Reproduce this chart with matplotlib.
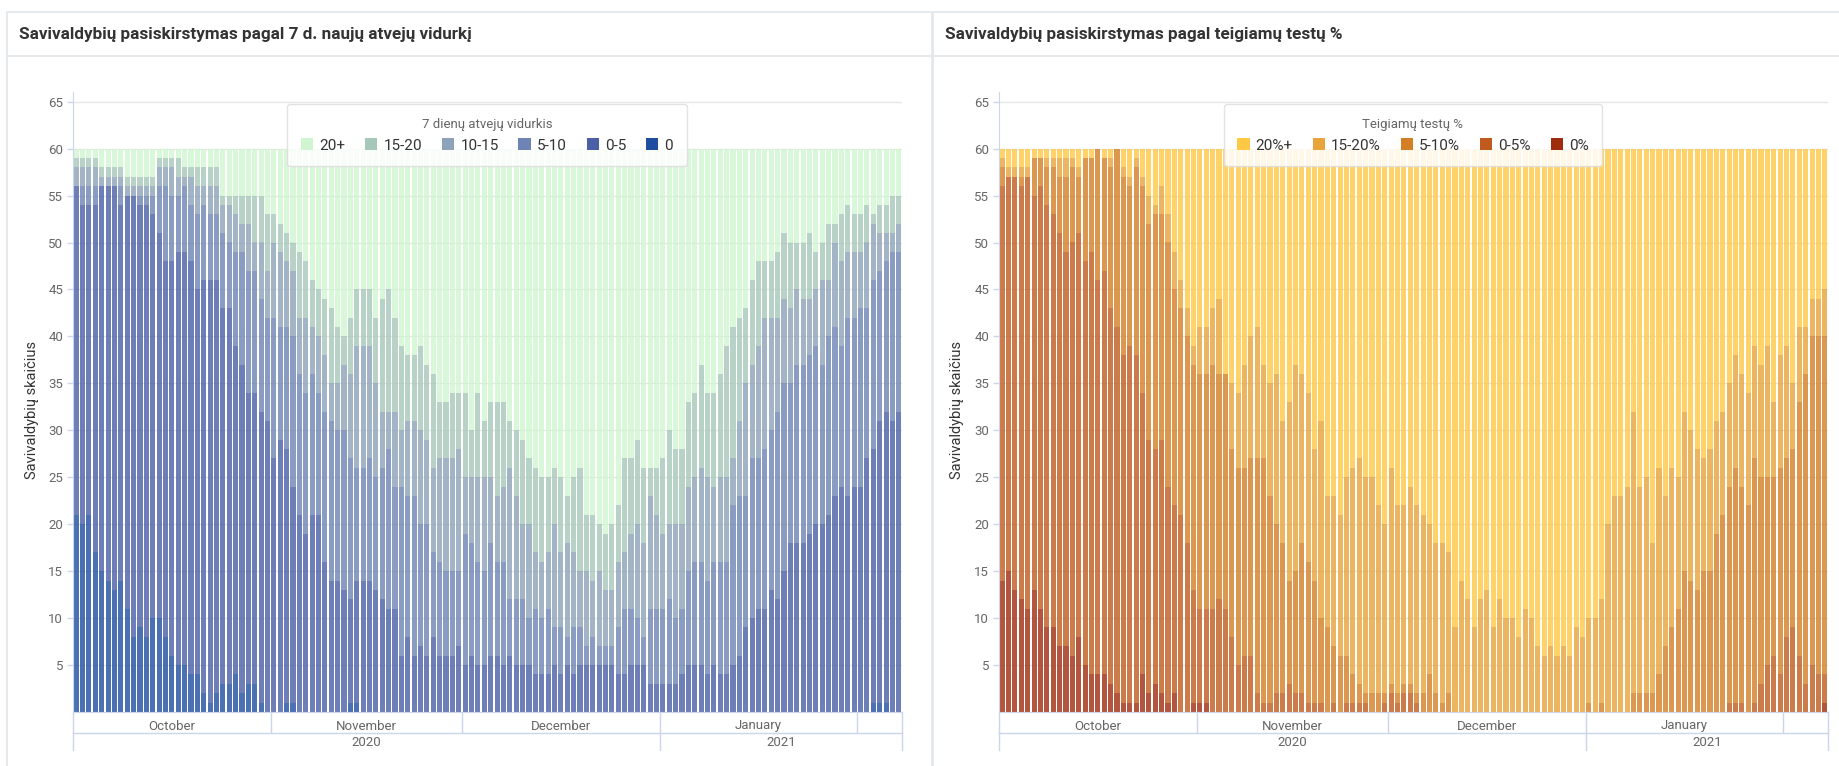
import numpy as np
import pandas as pd
import matplotlib
matplotlib.use('Agg')
import matplotlib.pyplot as plt
from matplotlib.patches import Rectangle, Patch
from matplotlib.lines import Line2D

plt.rcParams['font.family'] = ['Roboto', 'DejaVu Sans']

W, H = 1840, 766
TOTAL = 60

days = pd.date_range('2020-10-01', periods=130, freq='D')

# 7 day average of new cases: top edge of each band, per day (Oct, Nov, Dec, Jan, Feb)
cases_top_0 = ([21, 20, 21, 17, 15, 14, 13, 14, 11, 8, 9, 8, 10, 10, 8, 6, 5, 5, 4, 4, 2, 1, 2, 3, 3, 4, 2, 3, 3, 1, 0]
               + [0, 0, 1, 1, 0, 0, 0, 0, 0, 0, 0, 0, 1, 1, 0, 0, 0, 0, 0, 0, 0, 0, 0, 0, 0, 0, 0, 0, 0, 0]
               + [0] * 31
               + [0] * 31
               + [0, 0, 1, 1, 1, 0, 0])
cases_top_5 = ([56, 54, 54, 54, 56, 56, 56, 54, 55, 55, 54, 54, 53, 51, 48, 48, 49, 49, 48, 45, 46, 46, 46, 43, 43, 39, 37, 34, 34, 32, 31]
               + [27, 29, 28, 24, 21, 19, 21, 21, 16, 14, 14, 13, 12, 14, 14, 14, 13, 12, 11, 11, 6, 8, 6, 7, 6, 8, 6, 6, 6, 7]
               + [5, 6, 5, 5, 6, 6, 5, 6, 5, 5, 5, 4, 4, 4, 5, 4, 5, 4, 5, 5, 5, 5, 5, 5, 4, 4, 5, 5, 5, 3, 3]
               + [3, 3, 3, 4, 5, 5, 5, 4, 5, 4, 4, 5, 6, 9, 10, 11, 11, 13, 12, 15, 18, 18, 18, 19, 20, 20, 21, 23, 24, 23, 24]
               + [24, 27, 28, 31, 32, 31, 32])
cases_top_10 = ([56, 56, 56, 56, 56, 56, 56, 56, 55, 55, 55, 55, 55, 56, 56, 55, 55, 56, 54, 53, 54, 53, 53, 51, 50, 49, 49, 47, 47, 44, 42]
                + [42, 41, 41, 40, 36, 34, 36, 34, 32, 31, 30, 30, 27, 26, 26, 27, 25, 26, 28, 24, 24, 23, 23, 20, 20, 17, 16, 15, 15, 15]
                + [19, 18, 16, 15, 18, 16, 16, 12, 12, 12, 10, 11, 10, 11, 9, 9, 8, 9, 9, 7, 8, 7, 7, 7, 9, 11, 11, 10, 8, 11, 11]
                + [11, 12, 10, 11, 15, 16, 16, 14, 16, 16, 16, 22, 23, 23, 27, 27, 28, 30, 32, 35, 35, 37, 37, 38, 39, 37, 40, 41, 39, 42, 42]
                + [43, 43, 46, 47, 48, 49, 49])
cases_top_15 = ([58, 58, 58, 58, 57, 57, 57, 57, 56, 56, 56, 56, 56, 58, 58, 58, 57, 57, 57, 56, 56, 56, 56, 54, 54, 53, 52, 52, 50, 50, 47]
                + [50, 49, 48, 47, 42, 42, 41, 40, 38, 35, 35, 37, 36, 39, 39, 39, 35, 32, 32, 32, 30, 31, 31, 30, 29, 26, 27, 27, 27, 28]
                + [25, 25, 25, 25, 25, 23, 24, 26, 23, 20, 20, 17, 16, 17, 20, 17, 18, 17, 15, 15, 14, 15, 13, 13, 16, 17, 19, 20, 18, 23, 21]
                + [19, 20, 20, 20, 24, 25, 26, 25, 24, 25, 25, 27, 31, 35, 37, 39, 42, 42, 42, 44, 43, 45, 44, 44, 45, 46, 46, 50, 48, 49, 49]
                + [49, 50, 52, 51, 51, 51, 52])
cases_top_20 = ([59, 59, 59, 59, 58, 58, 58, 58, 57, 57, 57, 57, 57, 59, 59, 59, 59, 58, 58, 58, 58, 58, 58, 55, 55, 55, 55, 55, 55, 55, 53]
                + [53, 52, 51, 50, 49, 48, 46, 45, 44, 43, 41, 40, 42, 45, 45, 45, 42, 44, 45, 42, 39, 38, 38, 39, 37, 36, 33, 33, 34, 34]
                + [34, 30, 34, 31, 33, 33, 33, 31, 30, 29, 27, 26, 25, 25, 26, 25, 23, 25, 26, 21, 21, 20, 19, 20, 22, 27, 27, 29, 26, 26, 26]
                + [27, 30, 28, 28, 33, 34, 37, 34, 34, 36, 39, 41, 42, 43, 46, 48, 48, 48, 49, 51, 50, 50, 50, 51, 49, 50, 52, 52, 53, 54, 53]
                + [53, 54, 53, 54, 54, 55, 55])
case_labels = ['0', '0-5', '5-10', '10-15', '15-20', '20+']
case_colors = ['#1f4ea0', '#4a5fa5', '#6e84b4', '#8ea2b9', '#a8c7bb', '#d0f5d0']

# positive tests %: top edge of each band
tests_top_0 = ([14, 15, 13, 12, 11, 13, 11, 9, 9, 7, 7, 6, 8, 5, 4, 4, 4, 3, 2, 1, 1, 1, 4, 2, 3, 2, 1, 2, 0, 0, 1]
               + [1, 1] + [0] * 28
               + [0] * 31
               + [0] * 31
               + [0, 0, 0, 0, 0, 0, 1])
tests_top_5 = ([56, 57, 57, 56, 57, 55, 56, 54, 53, 51, 49, 50, 51, 48, 49, 46, 47, 43, 41, 38, 39, 38, 34, 29, 28, 29, 24, 22, 21, 18, 13]
               + [11, 11, 11, 12, 11, 8, 5, 6, 6, 2, 1, 1, 2, 2, 3, 2, 2, 1, 1, 1, 0, 1, 0, 1, 1, 1, 1, 0, 0, 1]
               + [2, 1, 2, 2, 1] + [0] * 26
               + [0] * 22 + [1, 1, 1, 0, 1, 3, 5, 6, 4]
               + [8, 9, 6, 3, 5, 4, 4])
tests_top_10 = ([58, 57, 57, 57, 57, 59, 59, 58, 58, 57, 57, 58, 57, 59, 59, 60, 59, 58, 60, 57, 56, 58, 56, 52, 53, 53, 50, 45, 43, 40, 37]
                + [36, 36, 37, 36, 36, 28, 26, 26, 27, 27, 27, 23, 20, 18, 14, 15, 18, 16, 14, 10, 9, 7, 6, 6, 4, 3, 2, 2, 2, 2]
                + [3, 2, 3, 3, 2, 2, 4, 2, 1, 2] + [0] * 21
                + [1, 0, 1, 0, 0, 0, 0, 2, 2, 2, 2, 4, 7, 9, 11, 15, 14, 13, 15, 15, 19, 21, 24, 26, 24, 22, 27, 25, 25, 25, 26]
                + [27, 28, 33, 36, 40, 40, 40])
tests_top_20 = ([59, 58, 58, 58, 58, 59, 59, 59, 59, 59, 59, 59, 58, 59, 59, 60, 59, 59, 60, 58, 57, 59, 57, 55, 54, 56, 53, 49, 46, 43, 39]
                + [41, 41, 43, 44, 36, 35, 34, 37, 40, 41, 37, 35, 36, 31, 33, 37, 36, 34, 28, 31, 23, 23, 21, 25, 26, 27, 25, 25, 22, 20]
                + [26, 22, 22, 24, 22, 21, 20, 18, 18, 17, 9, 14, 12, 9, 12, 13, 9, 12, 10, 10, 8, 11, 10, 7, 6, 7, 6, 7, 6, 9, 8]
                + [10, 10, 12, 20, 23, 23, 24, 32, 24, 25, 18, 26, 23, 26, 25, 32, 30, 28, 27, 28, 31, 32, 35, 38, 36, 34, 39, 37, 39, 33, 38]
                + [39, 35, 41, 41, 44, 44, 45])
test_labels = ['0%', '0-5%', '5-10%', '15-20%', '20%+']
test_colors = ['#a02c10', '#c05a1e', '#d47f26', '#e8a33a', '#ffc845']

AXIS = '#ccd6eb'
GRID = '#e6e6e6'
TXT = '#666666'


def fx(px):
    return px / W


def fy(py):
    return 1 - py / H


fig = plt.figure(figsize=(W / 100, H / 100), dpi=100)

# cards
for x0, x1 in [(7, 932), (933, 1850)]:
    fig.add_artist(Rectangle((fx(x0), fy(H + 10)), fx(x1) - fx(x0), fy(12) - fy(H + 10),
                             transform=fig.transFigure, fill=False, ec='#e3e6ea', lw=1.2))
    fig.add_artist(Line2D([fx(x0), fx(x1)], [fy(56), fy(56)], transform=fig.transFigure,
                          color='#e3e6ea', lw=1.2))

fig.text(fx(19), fy(34), 'Savivaldybių pasiskirstymas pagal 7 d. naujų atvejų vidurkį',
         fontsize=12.3, fontweight='bold', color='#333333', va='center')
fig.text(fx(945), fy(34), 'Savivaldybių pasiskirstymas pagal teigiamų testų %',
         fontsize=12.3, fontweight='bold', color='#333333', va='center')

YMAX = 66
ax_h_px = YMAX * 9.39


def draw_panel(left_px, tops, colors, labels, legend_title, legend_cx, ylabel_px):
    ax = fig.add_axes([fx(left_px), fy(712), fx(829), ax_h_px / H])
    n = len(days)
    x = np.arange(n)
    levels = [np.zeros(n)] + [np.array(t, dtype=float) for t in tops] + [np.full(n, TOTAL, dtype=float)]
    for lo, hi, c in zip(levels[:-1], levels[1:], colors):
        ax.bar(x, hi - lo, bottom=lo, width=0.8, color=c, alpha=0.8, linewidth=0)

    ax.set_xlim(-0.5, n - 0.5)
    ax.set_ylim(0, YMAX)
    ax.set_yticks(range(5, 70, 5))
    ax.set_xticks([])
    ax.set_axisbelow(True)
    ax.yaxis.grid(True, color=GRID, lw=1)
    for s in ['top', 'right']:
        ax.spines[s].set_visible(False)
    for s in ['left', 'bottom']:
        ax.spines[s].set_color(AXIS)
    ax.tick_params(axis='y', length=4, width=1, color=AXIS, labelcolor=TXT, labelsize=9.5, pad=3)

    # grouped date axis: months, then years
    trans = ax.get_xaxis_transform()

    def ay(p):
        return -p / ax_h_px

    month_starts = [i for i, d in enumerate(days) if d.day == 1]
    edges = [s - 0.5 for s in month_starts] + [n - 0.5]
    for e in edges:
        ax.plot([e, e], [0, ay(21)], transform=trans, color=AXIS, lw=1, clip_on=False)
    ax.plot([-0.5, n - 0.5], [ay(21), ay(21)], transform=trans, color=AXIS, lw=1, clip_on=False)
    for a, b in zip(edges[:-1], edges[1:]):
        if b - a > 20:
            ax.text((a + b) / 2, ay(14), days[int(a + 0.5)].strftime('%B'), transform=trans,
                    ha='center', va='center', fontsize=9.5, color=TXT)
    year_edges = [-0.5] + [i - 0.5 for i, d in enumerate(days) if d.day == 1 and d.month == 1] + [n - 0.5]
    for e in year_edges:
        ax.plot([e, e], [ay(21), ay(38)], transform=trans, color=AXIS, lw=1, clip_on=False)
    for a, b in zip(year_edges[:-1], year_edges[1:]):
        ax.text((a + b) / 2, ay(31), str(days[int(a + 0.5)].year), transform=trans,
                ha='center', va='center', fontsize=9.5, color=TXT)

    fig.text(fx(ylabel_px), fy(410), 'Savivaldybių skaičius', rotation=90,
             ha='center', va='center', fontsize=10.5, color='#333333')

    handles = [Patch(facecolor=c, edgecolor='none') for c in colors][::-1]
    leg = ax.legend(handles, labels[::-1], loc='upper center', ncol=len(labels),
                    bbox_to_anchor=(fx(legend_cx), fy(104)), bbox_transform=fig.transFigure,
                    borderaxespad=0, title=legend_title, fontsize=11, title_fontsize=9.5,
                    handlelength=0.8, handleheight=0.8, handletextpad=0.4, columnspacing=1.3,
                    borderpad=0.9, frameon=True, fancybox=True, framealpha=0.85,
                    edgecolor='#dddddd', facecolor='white')
    leg.get_title().set_color(TXT)
    for t in leg.get_texts():
        t.set_color('#333333')
    leg.get_frame().set_linewidth(1)
    return ax


draw_panel(73, [cases_top_0, cases_top_5, cases_top_10, cases_top_15, cases_top_20],
           case_colors, case_labels, '7 dienų atvejų vidurkis', 487, 32)
draw_panel(999, [tests_top_0, tests_top_5, tests_top_10, tests_top_20],
           test_colors, test_labels, 'Teigiamų testų %', 1413, 957)

fig.savefig('out.png', dpi=100)
